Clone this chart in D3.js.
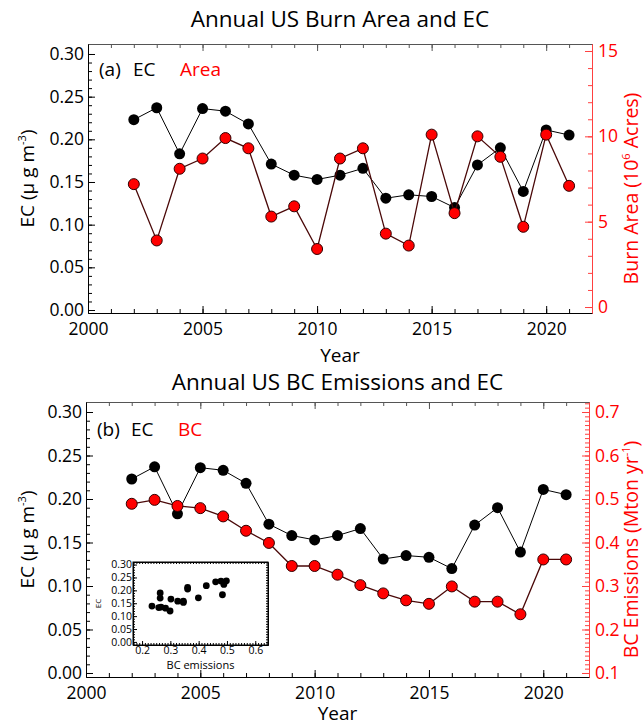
<!DOCTYPE html>
<html>
<head>
<meta charset="utf-8">
<script src="https://cdnjs.cloudflare.com/ajax/libs/d3/7.8.5/d3.min.js"></script>
<style>
	body{margin:0;background:#fff;}
	svg{display:block;font-family:"Open Sans",sans-serif;}
</style>
</head>
<body>
<svg id="chart" width="644" height="726"></svg>
<script>
(function(){

	var years = [2002,2003,2004,2005,2006,2007,2008,2009,2010,2011,2012,2013,2014,2015,2016,2017,2018,2019,2020,2021];
	var ecValues = [0.223,0.237,0.183,0.236,0.233,0.218,0.171,0.158,0.153,0.158,0.166,0.131,0.135,0.133,0.120,0.170,0.190,0.139,0.211,0.205];
	var burnArea = [7.2,3.9,8.1,8.7,9.9,9.3,5.3,5.9,3.4,8.7,9.3,4.3,3.6,10.1,5.5,10.0,8.8,4.7,10.1,7.1];
	var bcEmissions = [0.489,0.498,0.484,0.479,0.460,0.427,0.399,0.346,0.346,0.326,0.302,0.283,0.267,0.259,0.299,0.264,0.264,0.235,0.361,0.361];

	var yearTicks = [2000,2005,2010,2015,2020];
	var ecTicks = [0,0.05,0.10,0.15,0.20,0.25,0.30];
	var areaTicks = [0,5,10,15];
	var bcTicks = [0.1,0.2,0.3,0.4,0.5,0.6,0.7];
	var insetXTicks = [0.2,0.3,0.4,0.5,0.6];

	var RED = "#ff0000";
	var svg = d3.select("#chart");

	draw_panel({
		left: 88, right: 592, top: 44, bottom: 313,
		ecDomain: [-0.0035, 0.3117],
		rDomain: [-0.35, 15.41],
		rValues: burnArea, rTicks: areaTicks, rMinor: d3.range(0, 15.5, 1), rFormat: d3.format("d"),
		title: "Annual US Burn Area and EC", titleY: 27, yearY: 362,
		tag: "(a)", rName: "Area", tagY: 76,
		rLabel: ["Burn Area (10", "6", " Acres)"], rLabelX: 638
	});
	draw_panel({
		left: 86, right: 589, top: 402, bottom: 677,
		ecDomain: [-0.0046, 0.3115],
		rDomain: [0.0908, 0.723],
		rValues: bcEmissions, rTicks: bcTicks, rMinor: d3.range(0.1, 0.7201, 0.01), rFormat: d3.format(".1f"),
		title: "Annual US BC Emissions and EC", titleY: 390, yearY: 720,
		tag: "(b)", rName: "BC", tagY: 436,
		rLabel: ["BC Emissions (Mton yr", "-1", ")"], rLabelX: 638
	});
	draw_inset();

	function style_axis(g, color, size){
		g.attr("font-family", null).attr("font-size", size);
		g.selectAll("path,line").attr("stroke", color).attr("stroke-width", 1);
		g.selectAll("text").attr("fill", color);
	}

	function draw_panel(p){
		var x = d3.scaleLinear().domain([2000, 2022]).range([p.left, p.right]);
		var y = d3.scaleLinear().domain(p.ecDomain).range([p.bottom, p.top]);
		var yr = d3.scaleLinear().domain(p.rDomain).range([p.bottom, p.top]);
		var g = svg.append("g");

		// title
		g.append("text")
			.attr("x", (p.left + p.right) / 2).attr("y", p.titleY)
			.attr("text-anchor", "middle").attr("font-size", 22.5)
			.text(p.title);

		// minor ticks
		g.append("g").attr("transform", "translate(0," + p.bottom + ")")
			.call(d3.axisBottom(x).tickValues(d3.range(2000, 2023)).tickSizeInner(-4).tickSizeOuter(0).tickFormat(""))
			.call(style_axis, "#000", 17);
		g.append("g").attr("transform", "translate(0," + p.top + ")")
			.call(d3.axisTop(x).tickValues(d3.range(2000, 2023)).tickSizeInner(-4).tickSizeOuter(0).tickFormat(""))
			.call(style_axis, "#555", 17);
		g.append("g").attr("transform", "translate(" + p.left + ",0)")
			.call(d3.axisLeft(y).tickValues(d3.range(0, 0.305, 0.01)).tickSizeInner(-4).tickSizeOuter(0).tickFormat(""))
			.call(style_axis, "#000", 17);
		g.append("g").attr("transform", "translate(" + p.right + ",0)")
			.call(d3.axisRight(yr).tickValues(p.rMinor).tickSizeInner(-4).tickSizeOuter(0).tickFormat(""))
			.call(style_axis, "#ff4040", 17);

		// major ticks + labels
		g.append("g").attr("transform", "translate(0," + p.bottom + ")")
			.call(d3.axisBottom(x).tickValues(yearTicks).tickSizeInner(-7).tickSizeOuter(0).tickPadding(10).tickFormat(d3.format("d")))
			.call(style_axis, "#000", 17.5);
		g.append("g").attr("transform", "translate(0," + p.top + ")")
			.call(d3.axisTop(x).tickValues(yearTicks).tickSizeInner(-7).tickSizeOuter(0).tickFormat(""))
			.call(style_axis, "#555", 17);
		g.append("g").attr("transform", "translate(" + p.left + ",0)")
			.call(d3.axisLeft(y).tickValues(ecTicks).tickSizeInner(-7).tickSizeOuter(0).tickPadding(4).tickFormat(d3.format(".2f")))
			.call(style_axis, "#000", 17.5);
		g.append("g").attr("transform", "translate(" + p.right + ",0)")
			.call(d3.axisRight(yr).tickValues(p.rTicks).tickSizeInner(-7).tickSizeOuter(0).tickPadding(6).tickFormat(p.rFormat))
			.call(style_axis, "#ff4040", 17.5);
		g.selectAll("text").filter(function(){ return this.getAttribute("fill") === "#ff4040"; }).attr("fill", RED);

		// axis titles
		g.append("text")
			.attr("text-anchor", "middle").attr("font-size", 19)
			.attr("x", (p.left + p.right) / 2).attr("y", p.yearY)
			.text("Year");

		var yl = g.append("text")
			.attr("text-anchor", "middle").attr("font-size", 19)
			.attr("transform", "translate(34," + ((p.top + p.bottom) / 2) + ") rotate(-90)");
		yl.append("tspan").text("EC (\u03bc g m");
		yl.append("tspan").attr("font-size", 11).attr("dy", -8).text("-3");
		yl.append("tspan").attr("dy", 8).text(")");

		var rl = g.append("text")
			.attr("text-anchor", "middle").attr("font-size", 19.5).attr("fill", RED)
			.attr("transform", "translate(" + p.rLabelX + "," + ((p.top + p.bottom) / 2 + 10) + ") rotate(-90)");
		rl.append("tspan").text(p.rLabel[0]);
		rl.append("tspan").attr("font-size", 11).attr("dy", -8).text(p.rLabel[1]);
		rl.append("tspan").attr("dy", 8).text(p.rLabel[2]);

		// legend tag
		g.append("text").attr("x", p.left + 11).attr("y", p.tagY).attr("font-size", 19).text(p.tag);
		g.append("text").attr("x", p.left + 45).attr("y", p.tagY).attr("font-size", 19).text("EC");
		g.append("text").attr("x", p.left + 92).attr("y", p.tagY).attr("font-size", 19).attr("fill", RED).text(p.rName);

		// EC series
		var ecLine = d3.line()
			.x(function(d, i){ return x(years[i]); })
			.y(function(d){ return y(d); });
		g.append("path").datum(ecValues)
			.attr("d", ecLine).attr("fill", "none").attr("stroke", "#000").attr("stroke-width", 1);
		g.append("g").selectAll("circle").data(ecValues).enter().append("circle")
			.attr("cx", function(d, i){ return x(years[i]); })
			.attr("cy", function(d){ return y(d); })
			.attr("r", 5.5).attr("fill", "#000");

		// right-axis series
		var rLine = d3.line()
			.x(function(d, i){ return x(years[i]); })
			.y(function(d){ return yr(d); });
		g.append("path").datum(p.rValues)
			.attr("d", rLine).attr("fill", "none").attr("stroke", "#4a0808").attr("stroke-width", 1.3);
		g.append("g").selectAll("circle").data(p.rValues).enter().append("circle")
			.attr("cx", function(d, i){ return x(years[i]); })
			.attr("cy", function(d){ return yr(d); })
			.attr("r", 5.5).attr("fill", RED).attr("stroke", "#300000").attr("stroke-width", 1);
	}

	function draw_inset(){
		var L = 133, R = 268, T = 562, B = 645;
		var x = d3.scaleLinear().domain([0.168, 0.645]).range([L, R]);
		var y = d3.scaleLinear().domain([-0.012, 0.31]).range([B, T]);
		var g = svg.append("g");

		g.append("rect").attr("x", L).attr("y", T).attr("width", R - L).attr("height", B - T)
			.attr("fill", "#fff").attr("stroke", "#000").attr("stroke-width", 1);

		var xMinor = d3.range(0.17, 0.645, 0.01);
		var yMinor = d3.range(0, 0.305, 0.01);
		g.append("g").attr("transform", "translate(0," + B + ")")
			.call(d3.axisBottom(x).tickValues(xMinor).tickSizeInner(-2).tickSizeOuter(0).tickFormat(""))
			.call(style_axis, "#000", 10);
		g.append("g").attr("transform", "translate(0," + T + ")")
			.call(d3.axisTop(x).tickValues(xMinor).tickSizeInner(-2).tickSizeOuter(0).tickFormat(""))
			.call(style_axis, "#000", 10);
		g.append("g").attr("transform", "translate(" + L + ",0)")
			.call(d3.axisLeft(y).tickValues(yMinor).tickSizeInner(-2).tickSizeOuter(0).tickFormat(""))
			.call(style_axis, "#000", 10);
		g.append("g").attr("transform", "translate(" + R + ",0)")
			.call(d3.axisRight(y).tickValues(yMinor).tickSizeInner(-2).tickSizeOuter(0).tickFormat(""))
			.call(style_axis, "#000", 10);

		g.append("g").attr("transform", "translate(0," + B + ")")
			.call(d3.axisBottom(x).tickValues(insetXTicks).tickSizeInner(-4).tickSizeOuter(0).tickPadding(2).tickFormat(d3.format(".1f")))
			.call(style_axis, "#000", 10.5);
		g.append("g").attr("transform", "translate(" + L + ",0)")
			.call(d3.axisLeft(y).tickValues(ecTicks).tickSizeInner(-4).tickSizeOuter(0).tickPadding(1).tickFormat(d3.format(".2f")))
			.call(style_axis, "#000", 10.5);

		g.append("text").attr("x", (L + R) / 2).attr("y", B + 24)
			.attr("text-anchor", "middle").attr("font-size", 11).text("BC emissions");
		g.append("text").attr("text-anchor", "middle").attr("font-size", 8)
			.attr("transform", "translate(101," + ((T + B) / 2) + ") rotate(-90)").text("EC");

		g.append("g").selectAll("circle").data(ecValues).enter().append("circle")
			.attr("cx", function(d, i){ return x(bcEmissions[i]); })
			.attr("cy", function(d){ return y(d); })
			.attr("r", 3.4).attr("fill", "#000");
	}

})();
</script>
</body>
</html>
